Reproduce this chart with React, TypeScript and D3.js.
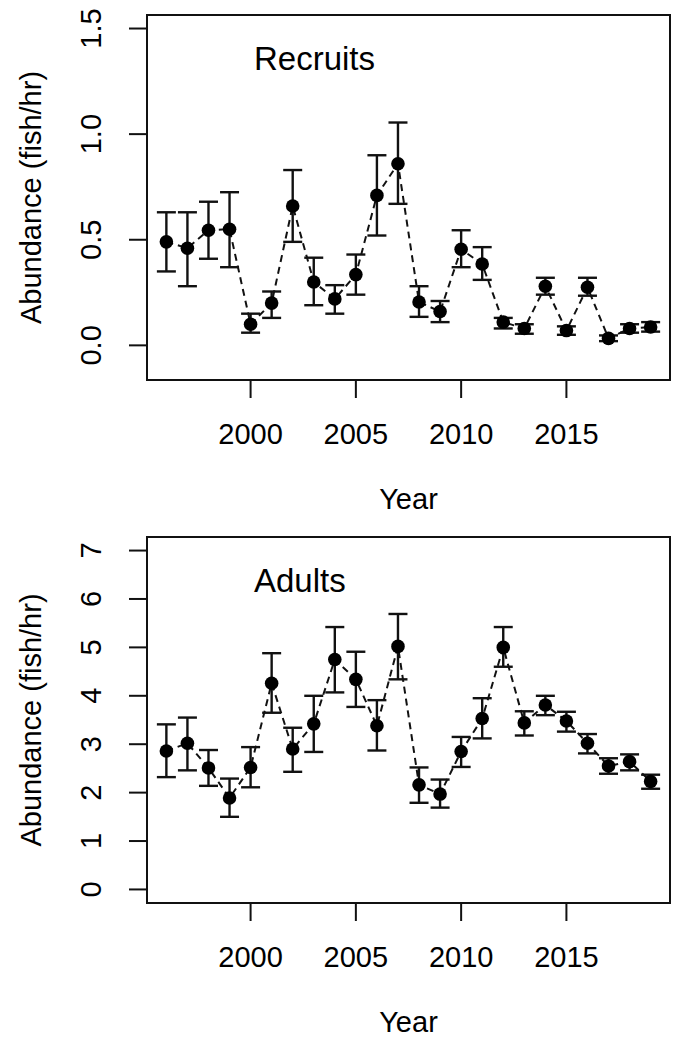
import { useEffect, useRef } from "react"
import * as d3 from "d3"

const years = [1996, 1997, 1998, 1999, 2000, 2001, 2002, 2003, 2004, 2005, 2006, 2007, 2008, 2009, 2010, 2011, 2012, 2013, 2014, 2015, 2016, 2017, 2018, 2019]

const recruitsMean = [0.49, 0.46, 0.545, 0.55, 0.1, 0.2, 0.66, 0.3, 0.22, 0.335, 0.71, 0.86, 0.205, 0.16, 0.455, 0.385, 0.11, 0.08, 0.28, 0.07, 0.275, 0.033, 0.08, 0.087]
const recruitsLow = [0.35, 0.28, 0.41, 0.37, 0.06, 0.13, 0.49, 0.19, 0.15, 0.24, 0.52, 0.67, 0.135, 0.11, 0.37, 0.31, 0.08, 0.055, 0.24, 0.05, 0.235, 0.02, 0.06, 0.065]
const recruitsHigh = [0.63, 0.63, 0.68, 0.725, 0.15, 0.255, 0.83, 0.415, 0.285, 0.43, 0.9, 1.055, 0.28, 0.21, 0.545, 0.465, 0.13, 0.1, 0.32, 0.09, 0.32, 0.047, 0.1, 0.11]

const adultsMean = [2.86, 3.02, 2.51, 1.89, 2.52, 4.26, 2.9, 3.42, 4.75, 4.34, 3.38, 5.02, 2.16, 1.97, 2.85, 3.53, 5.0, 3.44, 3.81, 3.48, 3.02, 2.55, 2.64, 2.23]
const adultsLow = [2.32, 2.46, 2.14, 1.5, 2.11, 3.65, 2.43, 2.84, 4.07, 3.77, 2.87, 4.34, 1.79, 1.69, 2.53, 3.12, 4.6, 3.18, 3.6, 3.26, 2.81, 2.39, 2.46, 2.08]
const adultsHigh = [3.41, 3.55, 2.88, 2.29, 2.94, 4.88, 3.34, 4.0, 5.42, 4.91, 3.91, 5.69, 2.52, 2.27, 3.15, 3.95, 5.42, 3.68, 4.0, 3.67, 3.21, 2.71, 2.79, 2.37]

const xTicks = [2000, 2005, 2010, 2015]
const recruitsTicks = [0, 0.5, 1.0, 1.5]
const adultsTicks = [0, 1, 2, 3, 4, 5, 6, 7]

const font = "'Liberation Sans', Arial, Helvetica, sans-serif"

function drawPanel(root, opts) {
    const { top, bottom, left, right, ylim, yTicks, yFormat, title, mean, low, high } = opts
    // R-style 4% axis extension
    const ext = (lim) => {
        const r = lim[1] - lim[0]
        return [lim[0] - r * 0.04, lim[1] + r * 0.04]
    }
    const x = d3.scaleLinear().domain(ext([years[0], years[years.length - 1]])).range([left, right])
    const y = d3.scaleLinear().domain(ext(ylim)).range([bottom, top])

    const g = root.append("g")

    // dashed connecting line
    g.append("path")
        .datum(years.map((yr, i) => [yr, mean[i]]))
        .attr("fill", "none")
        .attr("stroke", "#111")
        .attr("stroke-width", 2)
        .attr("stroke-dasharray", "7,5")
        .attr("d", d3.line().x((d) => x(d[0])).y((d) => y(d[1])))

    // error bars
    const cap = 9.5
    const eb = g.selectAll(".eb").data(years).enter().append("g")
    eb.append("line")
        .attr("x1", (d) => x(d))
        .attr("x2", (d) => x(d))
        .attr("y1", (d, i) => y(low[i]))
        .attr("y2", (d, i) => y(high[i]))
    eb.append("line")
        .attr("x1", (d) => x(d) - cap)
        .attr("x2", (d) => x(d) + cap)
        .attr("y1", (d, i) => y(low[i]))
        .attr("y2", (d, i) => y(low[i]))
    eb.append("line")
        .attr("x1", (d) => x(d) - cap)
        .attr("x2", (d) => x(d) + cap)
        .attr("y1", (d, i) => y(high[i]))
        .attr("y2", (d, i) => y(high[i]))
    eb.selectAll("line").attr("stroke", "#111").attr("stroke-width", 2.4)

    g.selectAll(".pt")
        .data(years)
        .enter()
        .append("circle")
        .attr("cx", (d) => x(d))
        .attr("cy", (d, i) => y(mean[i]))
        .attr("r", 6.8)
        .attr("fill", "#000")

    // box
    g.append("rect")
        .attr("x", left)
        .attr("y", top)
        .attr("width", right - left)
        .attr("height", bottom - top)
        .attr("fill", "none")
        .attr("stroke", "#111")
        .attr("stroke-width", 2)

    const tickLen = 18

    // x axis
    const xa = g.append("g")
    xa.selectAll(".xt").data(xTicks).enter().append("line")
        .attr("x1", (d) => x(d))
        .attr("x2", (d) => x(d))
        .attr("y1", bottom)
        .attr("y2", bottom + tickLen)
        .attr("stroke", "#111")
        .attr("stroke-width", 2)
    xa.selectAll(".xl").data(xTicks).enter().append("text")
        .attr("x", (d) => x(d))
        .attr("y", bottom + 64)
        .attr("text-anchor", "middle")
        .attr("font-family", font)
        .attr("font-size", 29)
        .text((d) => String(d))
    xa.append("text")
        .attr("x", (left + right) / 2)
        .attr("y", bottom + 129)
        .attr("text-anchor", "middle")
        .attr("font-family", font)
        .attr("font-size", 29)
        .text("Year")

    // y axis
    const ya = g.append("g")
    ya.selectAll(".yt").data(yTicks).enter().append("line")
        .attr("x1", left - tickLen)
        .attr("x2", left)
        .attr("y1", (d) => y(d))
        .attr("y2", (d) => y(d))
        .attr("stroke", "#111")
        .attr("stroke-width", 2)
    ya.selectAll(".yl").data(yTicks).enter().append("text")
        .attr("transform", (d) => `translate(${left - 46},${y(d)}) rotate(-90)`)
        .attr("text-anchor", "middle")
        .attr("font-family", font)
        .attr("font-size", 29)
        .text((d) => yFormat(d))
    ya.append("text")
        .attr("transform", `translate(41,${(top + bottom) / 2}) rotate(-90)`)
        .attr("text-anchor", "middle")
        .attr("font-family", font)
        .attr("font-size", 29)
        .text("Abundance (fish/hr)")

    g.append("text")
        .attr("x", 254)
        .attr("y", top + 55)
        .attr("font-family", font)
        .attr("font-size", 33)
        .text(title)
}

export default function App() {
    const svgRef = useRef(null)

    useEffect(() => {
        const svg = d3.select(svgRef.current)
        svg.selectAll("*").remove()

        drawPanel(svg, {
            top: 15,
            bottom: 380,
            left: 147,
            right: 670,
            ylim: [-0.1, 1.5],
            yTicks: recruitsTicks,
            yFormat: d3.format(".1f"),
            title: "Recruits",
            mean: recruitsMean,
            low: recruitsLow,
            high: recruitsHigh,
        })

        drawPanel(svg, {
            top: 537,
            bottom: 903,
            left: 147,
            right: 670,
            ylim: [0, 7],
            yTicks: adultsTicks,
            yFormat: d3.format("d"),
            title: "Adults",
            mean: adultsMean,
            low: adultsLow,
            high: adultsHigh,
        })
    }, [])

    return (
        <svg
            ref={svgRef}
            width={673}
            height={1039}
            style={{ position: "absolute", left: 0, top: 0, background: "#fff" }}
        ></svg>
    )
}
